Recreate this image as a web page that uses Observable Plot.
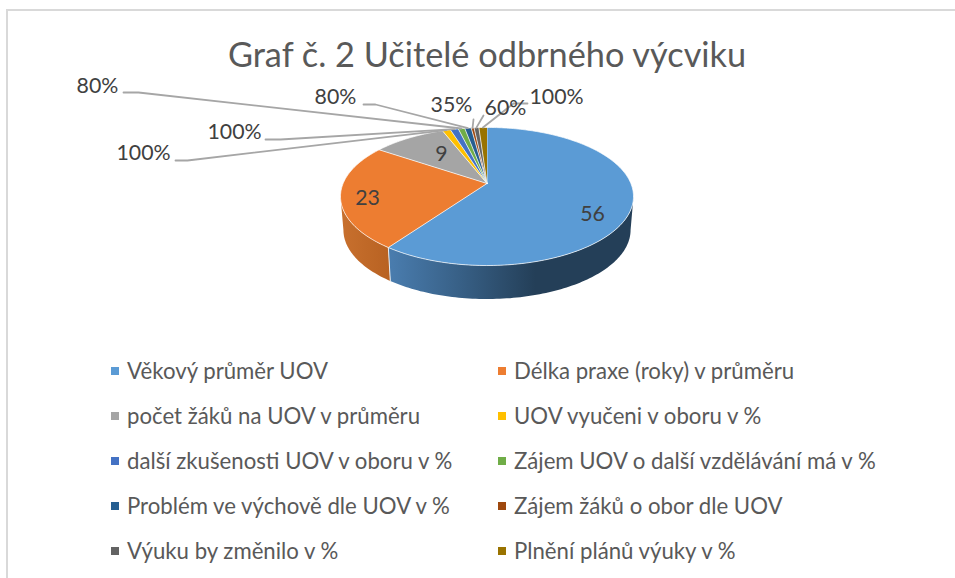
<!DOCTYPE html>
<html lang="cs">
<head>
<meta charset="utf-8">
<script src="https://cdn.jsdelivr.net/npm/d3@7"></script>
<script src="https://cdn.jsdelivr.net/npm/@observablehq/plot@0.6"></script>
<style>
html,body{margin:0;padding:0;background:#fff;overflow:hidden}
#page{position:relative;width:955px;height:578px;overflow:hidden;font-family:Lato,sans-serif}
#frame{position:absolute;left:6px;top:9px;right:-5px;bottom:-5px;border-top:2px solid #d9d9d9;border-left:2px solid #d9d9d9}
#title{position:relative;height:62px;line-height:108px;text-align:center;font-size:34.3px;color:#595959;padding-left:19px;box-sizing:border-box;white-space:nowrap}
#chart{position:relative;height:283px}
#chart svg{display:block;background:transparent;overflow:visible}
#legend{position:relative;margin-top:3px;display:grid;grid-template-columns:387px 1fr;padding-left:111px;grid-auto-rows:45px;font-size:22.2px;color:#595959}
.item{display:flex;align-items:center;white-space:nowrap}
.sw{display:inline-block;width:8px;height:8px;margin-right:8px;flex:none}
</style>
</head>
<body>
<div id="page">
<div id="frame"></div>
<div id="title">Graf č. 2 Učitelé odbrného výcviku</div>
<div id="chart"></div>
<div id="legend"></div>
</div>
<script>
// Data
const names = ["Věkový průměr UOV","Délka praxe (roky) v průměru","počet žáků na UOV v průměru","UOV vyučeni v oboru v %","další zkušenosti UOV v oboru v %","Zájem UOV o další vzdělávání má v %","Problém ve výchově dle UOV v %","Zájem žáků o obor dle UOV","Výuku by změnilo v %","Plnění plánů výuky v %"];
const values = [56,23,9,1,1,0.8,0.8,0.35,0.6,1];
const labels = ["56","23","9","100%","100%","80%","80%","35%","60%","100%"];
const colors = ["#5B9BD5","#ED7D31","#A5A5A5","#FFC000","#4472C4","#70AD47","#255E91","#9E480E","#636363","#997300"];

// Layout of the tilted disc (page pixels)
const cx = 486.5, apexY = 183, A = 66.6, B = 143.9, k = 0.188, depth = 33.5, baseScale = 0.98;
const top0 = 62, H = 283;
// Label positions: [label x, label y, leader start x, elbow x, leader y]
const labelAt = [
  [592,214],[367,198],[441,154],
  [143,153,175,187,160],[234,132,265,280,139],[97,86,123,138,92],
  [335,97,363,375,104],[451,105,473,473,119],[505,108,483,483,115],[556,97,527,513,103]
];

const project = (t) => {
  const X = Math.sin(t), Y = Math.cos(t), d = 1 + k * Y;
  return [cx + B * X / d, apexY - A * Y / d];
};
const base = (t) => {
  const [x, y] = project(t);
  return [cx + (x - cx) * baseScale, y + depth];
};
const arc = (a, b, f) => {
  const n = Math.max(2, Math.ceil((b - a) / 0.02));
  return d3.range(n + 1).map(i => f(a + (b - a) * i / n));
};

const slices = d3.pie().sort(null).value(d => d)(values);
const topPts = slices.flatMap((s, i) =>
  [[cx, apexY], ...arc(s.startAngle, s.endAngle, project)].map(([x, y]) => ({x, y, name: names[i]})));
const wallPts = (a, b) => [...arc(a, b, project), ...arc(a, b, base).reverse()].map(([x, y]) => ({x, y}));
const thetaRight = Math.acos(-k), thetaLeft = 2 * Math.PI - thetaRight;
const blueWall = wallPts(thetaRight, slices[0].endAngle);
const orangeWall = wallPts(slices[0].endAngle, thetaLeft);
const seam = [project(slices[0].endAngle), base(slices[0].endAngle)].map(([x, y]) => ({x, y}));

const leaders = slices.flatMap((s, i) => {
  const p = labelAt[i];
  if (p.length < 3) return [];
  const end = project((s.startAngle + s.endAngle) / 2);
  return [[p[2], p[4]], [p[3], p[4]], end].map(([x, y]) => ({x, y, name: names[i]}));
});
const textRows = labels.map((t, i) => ({t, x: labelAt[i][0], y: labelAt[i][1], inner: i < 3}));

const defs = () => d3.create("svg:defs").html(`
  <linearGradient id="wallBlue" x1="0" x2="1" y1="0" y2="0">
    <stop offset="0" stop-color="#4a7daf"/><stop offset="0.3" stop-color="#375f85"/>
    <stop offset="0.6" stop-color="#243f58"/><stop offset="1" stop-color="#243f58"/>
  </linearGradient>
  <linearGradient id="wallOrange" x1="0" x2="1" y1="0" y2="0">
    <stop offset="0" stop-color="#c8702e"/><stop offset="1" stop-color="#b86222"/>
  </linearGradient>`).node();

const chart = Plot.plot({
  width: 955, height: H,
  marginTop: 0, marginRight: 0, marginBottom: 0, marginLeft: 0,
  style: {background: "transparent", fontFamily: "Lato, sans-serif"},
  x: {domain: [0, 955], range: [0, 955], axis: null},
  y: {domain: [top0, top0 + H], range: [0, H], axis: null},
  color: {domain: names, range: colors},
  marks: [
    defs,
    Plot.line(blueWall, {x: "x", y: "y", fill: "url(#wallBlue)", stroke: "none"}),
    Plot.line(orangeWall, {x: "x", y: "y", fill: "url(#wallOrange)", stroke: "none"}),
    Plot.line(seam, {x: "x", y: "y", stroke: "#e8eef4", strokeWidth: 1}),
    Plot.line(topPts, {x: "x", y: "y", z: "name", fill: "name", stroke: "#ffffff", strokeWidth: 0.7, strokeLinejoin: "round"}),
    Plot.line(leaders, {x: "x", y: "y", z: "name", stroke: "#a6a6a6", strokeWidth: 1.8}),
    Plot.text(textRows, {x: "x", y: "y", text: "t", fill: "#404040", fontSize: 21.3, textAnchor: "middle", lineAnchor: "middle"})
  ]
});
document.getElementById("chart").appendChild(chart);

const legend = d3.select("#legend");
names.forEach((n, i) => {
  const it = legend.append("div").attr("class", "item");
  it.append("span").attr("class", "sw").style("background", colors[i]);
  it.append("span").text(n);
});
</script>
</body>
</html>
